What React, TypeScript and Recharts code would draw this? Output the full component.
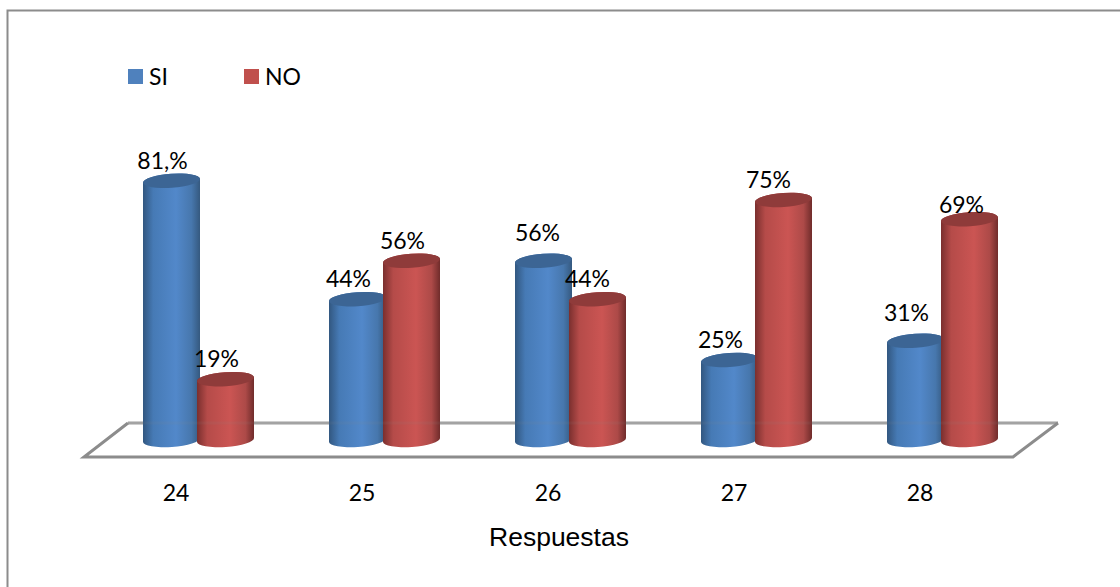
import React from "react";
import { Bar, BarChart, LabelList, Legend, XAxis, YAxis } from "recharts";

const categories = ["24", "25", "26", "27", "28"];
const si_values = [81, 44, 56, 25, 31];
const no_values = [19, 56, 44, 75, 69];
const si_labels = ["81,%", "44%", "56%", "25%", "31%"];
const no_labels = ["19%", "56%", "44%", "75%", "69%"];

const data = categories.map((name, i) => ({
  name,
  SI: si_values[i],
  NO: no_values[i],
  si_label: si_labels[i],
  no_label: no_labels[i],
}));

const DEPTH_SHIFT = 22.5; // bars sit further back on the 3D floor than the tick labels
const TILT = -4;

// a few labels were dragged by hand in the original chart
const si_nudges = [[0, 0], [0, 0], [3, -8], [0, 0], [0, -8]];
const no_nudges = [[0, 0], [0, 0], [-1, 0], [-6, 0], [1, 6]];

function Cylinder({ x, y, width, height, gradient, cap }: any) {
  const cx = x + width / 2 + DEPTH_SHIFT;
  const rx = width / 2 + 1.5;
  const ry = 7;
  const bottom = y + height;
  const dy = rx * Math.sin((-TILT * Math.PI) / 180);
  const body = [
    `M${cx - rx} ${y + dy}`,
    `L${cx - rx} ${bottom + dy}`,
    `A${rx} ${ry} ${TILT} 0 0 ${cx + rx} ${bottom - dy}`,
    `L${cx + rx} ${y - dy}`,
    `A${rx} ${ry} ${TILT} 0 0 ${cx - rx} ${y + dy}`,
    "Z",
  ].join(" ");
  return (
    <g>
      <path d={body} fill={`url(#${gradient})`} />
      <ellipse
        cx={cx}
        cy={y}
        rx={rx}
        ry={ry}
        fill={cap}
        transform={`rotate(${TILT} ${cx} ${y})`}
      />
    </g>
  );
}

function ValueLabel({ x, y, width, value, index, nudges }: any) {
  const [nx, ny] = nudges[index] || [0, 0];
  return (
    <text
      x={x + width / 2 + DEPTH_SHIFT - 9 + nx}
      y={y - 21 + ny}
      textAnchor="middle"
      dominantBaseline="central"
      fontFamily="Lato"
      fontSize={23}
      fill="#000"
    >
      {value}
    </text>
  );
}

function LegendRow({ payload }: any) {
  return (
    <div style={{ display: "flex", fontFamily: "Lato", fontSize: 23, color: "#000" }}>
      {(payload || []).map((item: any) => (
        <div
          key={item.value}
          style={{ display: "flex", alignItems: "center", width: 116 }}
        >
          <span
            style={{
              width: 15,
              height: 15,
              background: item.value === "SI" ? "#4f81bd" : "#c0504d",
              marginRight: 6,
            }}
          />
          {item.value}
        </div>
      ))}
    </div>
  );
}

function Gradient({ id, stops }: { id: string; stops: string[] }) {
  return (
    <linearGradient id={id} x1="0" y1="0" x2="1" y2="0">
      <stop offset="0%" stopColor={stops[0]} />
      <stop offset="18%" stopColor={stops[1]} />
      <stop offset="58%" stopColor={stops[2]} />
      <stop offset="85%" stopColor={stops[3]} />
      <stop offset="100%" stopColor={stops[4]} />
    </linearGradient>
  );
}

export default function App() {
  return (
    <div
      style={{
        position: "absolute",
        left: 0,
        top: 0,
        width: 1120,
        height: 587,
        overflow: "hidden",
        background: "#fff",
      }}
    >
      <svg width={1120} height={587} style={{ position: "absolute", left: 0, top: 0 }}>
        <path d="M7.5 587V10.5H1120" fill="none" stroke="#8c8c8c" strokeWidth={2} />
        <path d="M128 423H1058" fill="none" stroke="#a6a6a6" strokeWidth={3} />
        <path
          d="M128 423L84 457H1013L1058 423"
          fill="none"
          stroke="#8c8c8c"
          strokeWidth={3}
        />
      </svg>
      <div style={{ position: "absolute", left: 0, top: 0 }}>
        <BarChart
          width={1120}
          height={587}
          data={data}
          barSize={54}
          barGap={0}
          margin={{ top: 120, right: 107, bottom: 27, left: 83 }}
        >
          <defs>
            <Gradient
              id="si_fill"
              stops={["#325780", "#467ab5", "#5288ca", "#4777ad", "#35597f"]}
            />
            <Gradient
              id="no_fill"
              stops={["#7a2f2e", "#b54b49", "#cb5553", "#ad4a48", "#702c2b"]}
            />
          </defs>
          <XAxis
            dataKey="name"
            axisLine={false}
            tickLine={false}
            height={120}
            tickMargin={39}
            tick={{ fontFamily: "Lato", fontSize: 23, fill: "#000" }}
            label={{
              value: "Respuestas",
              position: "insideBottom",
              offset: 14,
              dx: 11,
              style: { fontFamily: "Liberation Sans", fontSize: 26.5, fill: "#000" },
            }}
          />
          <YAxis hide domain={[0, 100]} />
          <Legend
            layout="vertical"
            align="center"
            verticalAlign="middle"
            itemSorter={null}
            content={<LegendRow />}
            wrapperStyle={{ left: 128, top: 62, width: 240, height: 28 }}
          />
          <Bar
            dataKey="SI"
            fill="#4f81bd"
            isAnimationActive={false}
            shape={<Cylinder gradient="si_fill" cap="#3c6594" />}
          >
            <LabelList dataKey="si_label" content={<ValueLabel nudges={si_nudges} />} />
          </Bar>
          <Bar
            dataKey="NO"
            fill="#c0504d"
            isAnimationActive={false}
            shape={<Cylinder gradient="no_fill" cap="#8f3b3a" />}
          >
            <LabelList dataKey="no_label" content={<ValueLabel nudges={no_nudges} />} />
          </Bar>
        </BarChart>
      </div>
      <svg
        width={1120}
        height={587}
        style={{ position: "absolute", left: 0, top: 0, pointerEvents: "none" }}
      >
        {/* floor's back edge shows faintly through the cylinders */}
        <path d="M128 423H1058" fill="none" stroke="#8c8c8c" strokeWidth={3} opacity={0.1} />
      </svg>
    </div>
  );
}
